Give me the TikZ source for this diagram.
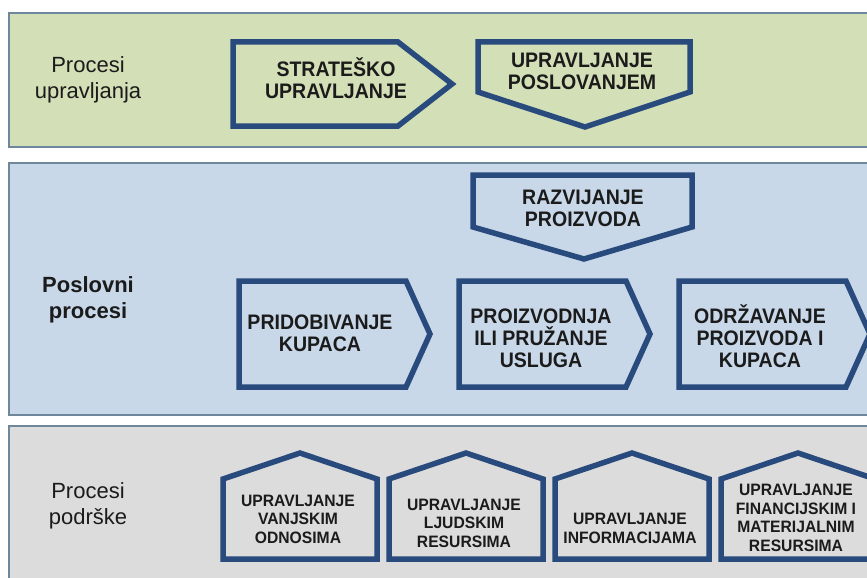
\documentclass[tikz,border=0pt]{standalone}
\usepackage{fontspec}
\setmainfont{Liberation Sans}
\newfontfamily\boxfont[FakeStretch=0.93]{Liberation Sans}
\newfontfamily\housefont[FakeStretch=0.95]{Liberation Sans}
\usepackage{tikz}

\definecolor{bandgreen}{HTML}{D3DFB6}
\definecolor{bandblue}{HTML}{C8D8E9}
\definecolor{bandgrey}{HTML}{DCDCDC}
\definecolor{bandline}{HTML}{6E879B}
\definecolor{procblue}{HTML}{284A7C}
\definecolor{inkdark}{HTML}{1B1B1B}

\tikzset{
	band/.style={draw=bandline,line width=1.5pt},
	proc/.style={draw=procblue,line width=5.5pt,line join=miter},
	lbl/.style={anchor=base,align=center,text=inkdark,inner sep=0pt,font=\fontsize{22}{26}\selectfont},
	boxtxt/.style={anchor=base,align=center,text=inkdark,inner sep=0pt,font=\boxfont\bfseries\fontsize{21}{22}\selectfont},
	housetxt/.style={anchor=base,align=center,text=inkdark,inner sep=0pt,font=\housefont\bfseries\fontsize{16.5}{18.5}\selectfont}
}

\begin{document}
\begin{tikzpicture}[x=1pt,y=-1pt]
			\useasboundingbox (0,0) rectangle (867,578);
			\clip (0,0) rectangle (867,578);
			\fill[white] (0,0) rectangle (867,578);
			\draw[band,fill=bandgreen] (9,13) rectangle (880,147);
			\draw[band,fill=bandblue] (9,163) rectangle (880,415);
			\draw[band,fill=bandgrey] (9,426) rectangle (880,600);
			\node[lbl] (upr) at (88,99) {Procesi\\upravljanja};
			\node[lbl,font=\bfseries\fontsize{22}{26}\selectfont] (posl) at (88,318) {Poslovni\\procesi};
			\node[lbl] (podr) at (88,524) {Procesi\\podrške};
			\draw[proc] (233,42) -- (398,42) -- (452,84) -- (398,126) -- (233,126) -- cycle;
			\node[boxtxt] (strat) at (336,98) {STRATEŠKO\\UPRAVLJANJE};
			\draw[proc] (478,42) -- (690,42) -- (690,92) -- (585,127) -- (478,92) -- cycle;
			\node[boxtxt] (poslov) at (582,89) {UPRAVLJANJE\\POSLOVANJEM};
			\draw[proc] (473,175) -- (692,175) -- (692,227) -- (584,259) -- (473,227) -- cycle;
			\node[boxtxt] (razv) at (583,226) {RAZVIJANJE\\PROIZVODA};
			\draw[proc] (239,281) -- (406,281) -- (430,334) -- (406,387) -- (239,387) -- cycle;
			\node[boxtxt] (prid) at (320,351) {PRIDOBIVANJE\\KUPACA};
			\draw[proc] (459,281) -- (626,281) -- (650,334) -- (626,387) -- (459,387) -- cycle;
			\node[boxtxt] (proizv) at (541,367) {PROIZVODNJA\\ILI PRUŽANJE\\USLUGA};
			\draw[proc] (679,281) -- (846,281) -- (870,334) -- (846,387) -- (679,387) -- cycle;
			\node[boxtxt] (odrz) at (760,367) {ODRŽAVANJE\\PROIZVODA I\\KUPACA};
			\foreach \cx/\nm/\by/\txt in {300/vanj/543/{UPRAVLJANJE\\VANJSKIM\\ODNOSIMA},466/ljud/547/{UPRAVLJANJE\\LJUDSKIM\\RESURSIMA},632/info/543/{UPRAVLJANJE\\INFORMACIJAMA},798/fin/551/{UPRAVLJANJE\\FINANCIJSKIM I\\MATERIJALNIM\\RESURSIMA}}
			{
				\draw[proc] (\cx-77,559) -- (\cx-77,479) -- (\cx,453) -- (\cx+77,479) -- (\cx+77,559) -- cycle;
				\node[housetxt] (\nm) at (\cx-2,\by) {\txt};
			}
\end{tikzpicture}
\end{document}
